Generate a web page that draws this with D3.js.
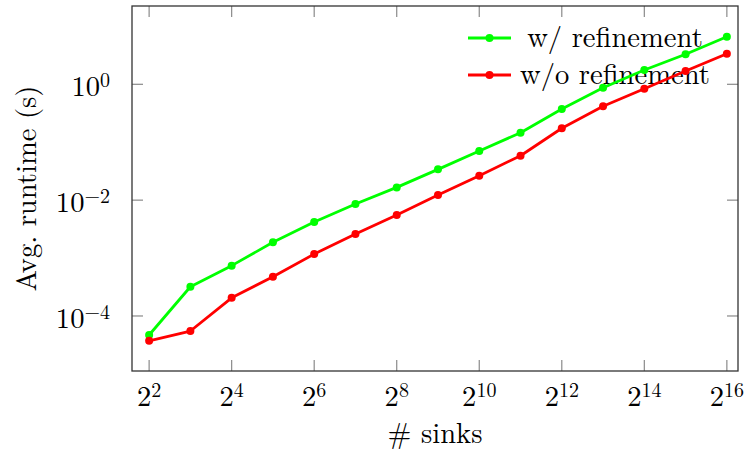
<!DOCTYPE html>
<html>
<head>
<meta charset="utf-8">
<script src="https://cdn.jsdelivr.net/npm/d3@7"></script>
<style>
  html, body { margin: 0; padding: 0; background: #fff; }
</style>
</head>
<body>
<svg id="chart" width="745" height="454"></svg>
<script>
const SINKS = [4, 8, 16, 32, 64, 128, 256, 512, 1024, 2048, 4096, 8192, 16384, 32768, 65536];
const WITH_REFINEMENT = [4.7e-5, 3.2e-4, 7.4e-4, 1.87e-3, 4.2e-3, 8.6e-3, 0.0166, 0.034, 0.0705, 0.146, 0.374, 0.874, 1.77, 3.3, 6.64];
const WITHOUT_REFINEMENT = [3.73e-5, 5.5e-5, 2.06e-4, 4.75e-4, 1.17e-3, 2.6e-3, 5.53e-3, 0.0123, 0.0264, 0.0585, 0.174, 0.417, 0.84, 1.70, 3.38];
const X_TICK_EXPONENTS = [2, 4, 6, 8, 10, 12, 14, 16];
const Y_TICK_EXPONENTS = [-4, -2, 0];
const SERIES_NAMES = ["w/ refinement", "w/o refinement"];
const SERIES_COLORS = ["#00ff00", "#ff0000"];

const FONT = "Latin Modern Roman, serif";
const FS = 28.6;   // normal size
const FS_SUP = 20; // superscript size

const svg = d3.select("#chart").attr("font-family", FONT);
const margin = { top: 6, right: 7, bottom: 83, left: 132 };
const width = 745, height = 454;

// pgfplots pads the axis limits, so the domain is a bit wider than the data
const x = d3.scaleLog().base(2)
  .domain([Math.pow(2, 1.585), Math.pow(2, 16.27)])
  .range([margin.left, width - margin.right]);
const y = d3.scaleLog()
  .domain([Math.pow(10, -4.95), Math.pow(10, 1.352)])
  .range([height - margin.bottom, margin.top]);

const x0 = margin.left, x1 = width - margin.right;
const y0 = height - margin.bottom, y1 = margin.top;
const tickLen = 11;

// ticks, mirrored on all four sides
const ticks = svg.append("g").attr("stroke", "#8a8a8a").attr("stroke-width", 1.2);
X_TICK_EXPONENTS.forEach((e) => {
  const tx = x(Math.pow(2, e));
  ticks.append("line").attr("x1", tx).attr("x2", tx).attr("y1", y0).attr("y2", y0 - tickLen);
  ticks.append("line").attr("x1", tx).attr("x2", tx).attr("y1", y1).attr("y2", y1 + tickLen);
});
Y_TICK_EXPONENTS.forEach((e) => {
  const ty = y(Math.pow(10, e));
  ticks.append("line").attr("x1", x0).attr("x2", x0 + tickLen).attr("y1", ty).attr("y2", ty);
  ticks.append("line").attr("x1", x1).attr("x2", x1 - tickLen).attr("y1", ty).attr("y2", ty);
});

// frame
svg.append("rect")
  .attr("x", x0).attr("y", y1)
  .attr("width", x1 - x0).attr("height", y0 - y1)
  .attr("fill", "none").attr("stroke", "#333").attr("stroke-width", 1.3);

// x tick labels: 2^n
const xLabels = svg.append("g").attr("font-size", FS);
X_TICK_EXPONENTS.forEach((e) => {
  const t = xLabels.append("text")
    .attr("x", x(Math.pow(2, e)))
    .attr("y", 406)
    .attr("text-anchor", "middle");
  t.append("tspan").text("2");
  t.append("tspan").attr("dy", -9).attr("font-size", FS_SUP).text(e);
});

// y tick labels: 10^n
const yLabels = svg.append("g").attr("font-size", FS);
Y_TICK_EXPONENTS.forEach((e) => {
  const t = yLabels.append("text")
    .attr("x", 110)
    .attr("y", y(Math.pow(10, e)) + 12)
    .attr("text-anchor", "end");
  t.append("tspan").text("10");
  t.append("tspan").attr("dy", -9).attr("font-size", FS_SUP).text(e < 0 ? "\u2212" + (-e) : e);
});

// axis titles
svg.append("text")
  .attr("x", (x0 + x1) / 2).attr("y", 443)
  .attr("text-anchor", "middle").attr("font-size", FS)
  .text("# sinks");
svg.append("text")
  .attr("transform", `translate(36,${(y0 + y1) / 2}) rotate(-90)`)
  .attr("text-anchor", "middle").attr("font-size", FS)
  .text("Avg. runtime (s)");

// series
const series = [WITH_REFINEMENT, WITHOUT_REFINEMENT].map((vals, i) => ({
  name: SERIES_NAMES[i],
  color: SERIES_COLORS[i],
  points: SINKS.map((s, j) => ({ s, v: vals[j] })),
}));

const line = d3.line().x((d) => x(d.s)).y((d) => y(d.v));

// legend (no box, drawn under the plot lines)
const legend = svg.append("g");
series.forEach((sr, i) => {
  const ly = 38 + i * 37;
  legend.append("line")
    .attr("x1", 468).attr("x2", 511).attr("y1", ly).attr("y2", ly)
    .attr("stroke", sr.color).attr("stroke-width", 2.8);
  legend.append("circle").attr("cx", 489.5).attr("cy", ly).attr("r", 4).attr("fill", sr.color);
  legend.append("text")
    .attr("x", 615).attr("y", ly + 9)
    .attr("text-anchor", "middle").attr("font-size", FS)
    .text(sr.name);
});

const plot = svg.append("g");
series.forEach((sr) => {
  plot.append("path")
    .datum(sr.points)
    .attr("fill", "none")
    .attr("stroke", sr.color)
    .attr("stroke-width", 2.8)
    .attr("stroke-linejoin", "round")
    .attr("d", line);
  plot.selectAll(null)
    .data(sr.points)
    .enter()
    .append("circle")
    .attr("cx", (d) => x(d.s))
    .attr("cy", (d) => y(d.v))
    .attr("r", 4)
    .attr("fill", sr.color);
});
</script>
</body>
</html>
